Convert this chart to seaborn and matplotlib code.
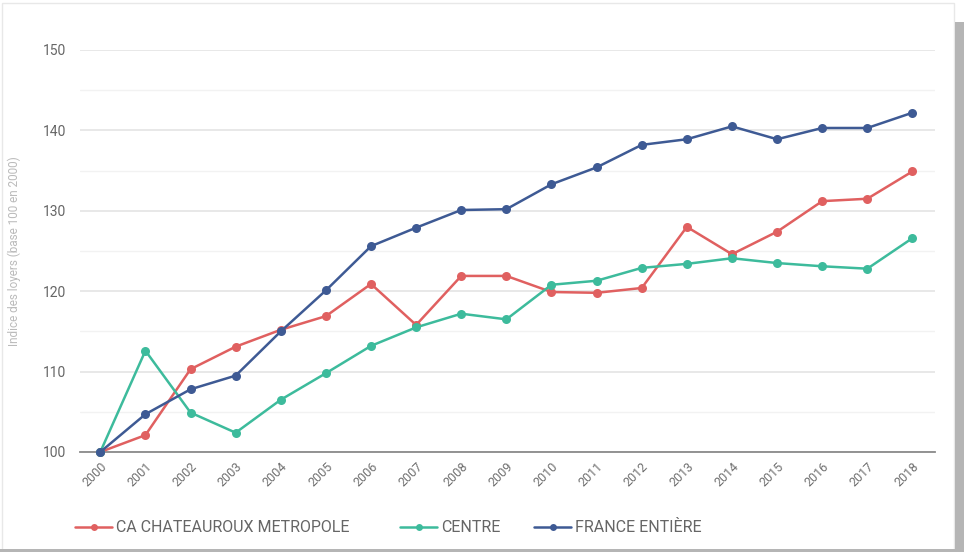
import matplotlib
matplotlib.use("Agg")
import matplotlib.pyplot as plt
import matplotlib.patches as mpatches
import seaborn as sns
import pandas as pd

years = [str(y) for y in range(2000, 2019)]
ca_chateauroux = [100.0, 102.1, 110.3, 113.1, 115.2, 116.9, 120.9, 115.8, 121.9, 121.9,
                  119.9, 119.8, 120.4, 128.0, 124.6, 127.4, 131.2, 131.5, 134.9]
centre = [100.0, 112.6, 104.9, 102.4, 106.5, 109.8, 113.2, 115.5, 117.2, 116.5,
          120.8, 121.3, 122.9, 123.4, 124.1, 123.5, 123.1, 122.8, 126.6]
france = [100.0, 104.7, 107.8, 109.5, 115.0, 120.1, 125.6, 127.9, 130.1, 130.2,
          133.3, 135.4, 138.2, 138.9, 140.5, 138.9, 140.3, 140.3, 142.2]
series_names = ["CA CHATEAUROUX METROPOLE", "CENTRE", "FRANCE ENTIÈRE"]
colors = ["#e06060", "#3dbb9c", "#3e5a94"]
y_ticks = [100, 110, 120, 130, 140, 150]

frames = []
for name, vals in zip(series_names, [ca_chateauroux, centre, france]):
    frames.append(pd.DataFrame({"annee": list(range(len(years))), "indice": vals, "serie": name}))
df = pd.concat(frames, ignore_index=True)

sns.set_style("white")
plt.rcParams["font.family"] = ["Roboto", "DejaVu Sans"]

fig = plt.figure(figsize=(9.64, 5.52), dpi=100)
ax = fig.add_axes([80 / 964, 1 - 452 / 552, 855 / 964, 402 / 552])

sns.lineplot(data=df, x="annee", y="indice", hue="serie", hue_order=series_names,
             palette=colors, marker="o", markersize=6.5, markeredgewidth=0,
             linewidth=1.8, ax=ax, legend=False, clip_on=False, zorder=3)

ax.set_xlim(-0.45, 18.5)
ax.set_ylim(100, 150)
ax.set_yticks(y_ticks)
ax.set_yticks([105, 115, 125, 135, 145], minor=True)
ax.set_xticks(range(len(years)))
ax.set_xticklabels(years, rotation=45, ha="right", rotation_mode="anchor")
ax.tick_params(axis="x", labelsize=9, colors="#707070", length=0, pad=6)
ax.tick_params(axis="y", labelsize=10, colors="#666666", length=0, pad=10)
ax.tick_params(axis="y", which="minor", length=0)
ax.grid(axis="y", which="major", color="#e4e4e4", linewidth=1.2)
ax.grid(axis="y", which="minor", color="#f2f2f2", linewidth=1.0)
ax.grid(axis="x", visible=False)
for s in ["top", "right", "left"]:
    ax.spines[s].set_visible(False)
ax.spines["bottom"].set_color("#8a8a8a")
ax.spines["bottom"].set_linewidth(1.3)
ax.set_xlabel("")
ax.set_ylabel("Indice des loyers (base 100 en 2000)", fontsize=8.5, color="#bbbbbb", labelpad=16)

# one legend entry per series, laid out along the bottom edge
legend_x = [72, 397, 531]
for name, c, lx in zip(series_names, colors, legend_x):
    h = plt.Line2D([], [], color=c, marker="o", markersize=5, linewidth=1.8, markeredgewidth=0)
    fig.legend([h], [name], loc="center left", bbox_to_anchor=(lx / 964, 1 - 528 / 552),
               frameon=False, fontsize=11.5, labelcolor="#666666", handlelength=2.3,
               handletextpad=0.25, borderaxespad=0, borderpad=0.2)

# card-style frame with a soft shadow on the right and bottom edges
fig.patches.append(mpatches.Rectangle((0.002, 0.004), 0.988, 0.99, transform=fig.transFigure,
                                      fill=False, edgecolor="#e8e8e8", linewidth=1.0))
fig.patches.append(mpatches.Rectangle((0.991, 0.0), 0.009, 0.96, transform=fig.transFigure,
                                      facecolor="#b5b5b5", edgecolor="none"))
fig.patches.append(mpatches.Rectangle((0.0, 0.0), 1.0, 0.006, transform=fig.transFigure,
                                      facecolor="#b5b5b5", edgecolor="none"))

fig.savefig("out.png", dpi=100, facecolor="white")
